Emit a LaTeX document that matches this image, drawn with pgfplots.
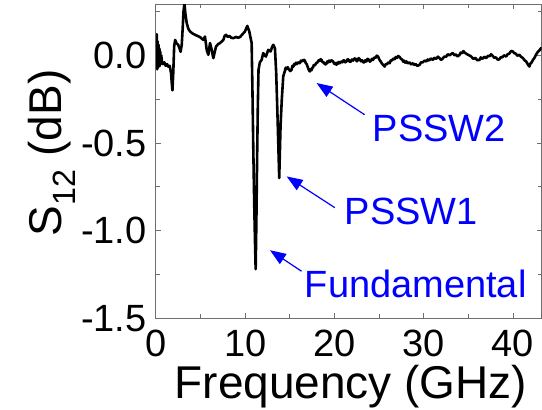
\documentclass[border=0pt]{standalone}
\usepackage{fontspec}
\setmainfont{Liberation Sans}
\usepackage{pgfplots}
\pgfplotsset{compat=1.18}
\usetikzlibrary{arrows.meta}
\definecolor{axgray}{RGB}{110,110,110}
\definecolor{annblue}{RGB}{0,0,255}
\begin{document}
\begin{tikzpicture}
\begin{axis}[
  scale only axis, width=386pt, height=314pt,
  xmin=0, xmax=43.2, ymin=-1.5, ymax=0.29,
  xtick={0,10,20,30,40}, minor xtick={5,15,25,35},
  ytick={-1.5,-1,-0.5,0}, minor ytick={-1.25,-0.75,-0.25,0.25},
  tick align=inside, major tick length=5pt, minor tick length=4pt,
  axis line style={axgray, line width=1pt},
  every tick/.style={axgray, line width=0.8pt},
  /pgf/number format/assume math mode=true,
  xticklabel style={font=\fontsize{38}{44}\selectfont, anchor=base, inner sep=0pt, yshift=-38pt},
  yticklabel style={font=\fontsize{38}{44}\selectfont, anchor=east, inner sep=0pt, xshift=-9pt},
  yticklabel={\pgfmathprintnumber[fixed,fixed zerofill,precision=1]{\tick}},
  xlabel={Frequency (GHz)},
  ylabel={S\textsubscript{12} (dB)},
  every axis x label/.style={at={(axis description cs:0.506,-0.2548)}, anchor=base, inner sep=0pt, font=\fontsize{46}{52}\selectfont},
  every axis y label/.style={at={(axis description cs:-0.2435,0.527)}, rotate=90, anchor=base, inner sep=0pt, font=\fontsize{46}{52}\selectfont},
]
\addplot[black, line width=2.6pt, line join=round] table {
0.00 0.10
0.05 -0.06
0.10 0.12
0.15 -0.08
0.20 0.08
0.25 -0.07
0.30 0.06
0.35 -0.05
0.40 0.04
0.45 -0.06
0.50 0.02
0.55 -0.05
0.60 0.00
0.70 -0.04
0.80 -0.05
0.95 -0.04
1.10 -0.06
1.25 -0.05
1.40 -0.065
1.55 -0.06
1.70 -0.10
1.80 -0.17
1.86 -0.20
1.95 -0.10
2.05 0.05
2.16 0.088
2.30 0.07
2.50 0.06
2.65 0.04
2.77 0.02
2.90 0.06
3.00 0.15
3.10 0.25
3.20 0.30
3.30 0.24
3.46 0.183
3.65 0.15
3.83 0.136
4.10 0.125
4.39 0.117
4.70 0.11
4.95 0.104
5.15 0.095
5.32 0.088
5.50 0.107
5.60 0.07
5.70 0.031
5.88 0.003
6.07 0.07
6.26 0.03
6.44 -0.016
6.60 0.02
6.74 0.05
7.00 0.065
7.19 0.07
7.40 0.08
7.56 0.088
7.70 0.11
7.86 0.117
8.05 0.105
8.23 0.111
8.45 0.10
8.68 0.098
9.00 0.105
9.20 0.10
9.42 0.104
9.70 0.12
9.98 0.136
10.24 0.168
10.47 0.136
10.65 0.09
10.73 0.07
10.82 -0.20
10.92 -0.55
11.02 -0.85
11.10 -1.05
11.18 -1.22
11.26 -0.95
11.34 -0.60
11.42 -0.30
11.50 -0.083
11.65 -0.04
11.85 -0.026
12.03 0.013
12.18 0.000
12.33 -0.007
12.59 0.031
12.85 0.022
13.00 0.045
13.15 0.06
13.34 0.041
13.48 -0.10
13.63 -0.35
13.82 -0.70
13.97 -0.40
14.11 -0.25
14.27 -0.12
14.45 -0.09
14.55 -0.070
14.64 -0.078
14.77 -0.068
14.90 -0.080
15.05 -0.090
15.20 -0.083
15.30 -0.060
15.40 -0.065
15.50 -0.050
15.57 -0.054
15.70 -0.042
15.80 -0.050
15.95 -0.040
16.13 -0.045
16.25 -0.030
16.40 -0.035
16.55 -0.025
16.69 -0.030
16.80 -0.045
16.90 -0.050
17.00 -0.065
17.06 -0.073
17.15 -0.085
17.25 -0.092
17.35 -0.080
17.44 -0.085
17.52 -0.070
17.60 -0.070
17.70 -0.055
17.81 -0.058
17.95 -0.045
18.10 -0.040
18.25 -0.028
18.37 -0.032
18.45 -0.022
18.56 -0.026
18.68 -0.040
18.80 -0.040
18.95 -0.052
19.11 -0.048
19.20 -0.035
19.30 -0.040
19.40 -0.030
19.50 -0.038
19.65 -0.028
19.86 -0.035
19.95 -0.045
20.05 -0.050
20.15 -0.044
20.23 -0.054
20.32 -0.042
20.40 -0.048
20.50 -0.038
20.60 -0.045
20.75 -0.035
20.90 -0.040
21.00 -0.028
21.10 -0.030
21.22 -0.040
21.35 -0.035
21.48 -0.022
21.60 -0.025
21.72 -0.038
21.85 -0.035
21.97 -0.024
22.10 -0.030
22.25 -0.018
22.40 -0.020
22.50 -0.034
22.60 -0.030
22.72 -0.016
22.84 -0.022
22.97 -0.034
23.10 -0.028
23.22 -0.040
23.35 -0.040
23.47 -0.028
23.59 -0.035
23.72 -0.020
23.85 -0.025
23.97 -0.036
24.10 -0.030
24.22 -0.020
24.33 -0.026
24.47 -0.012
24.60 -0.015
24.75 -0.002
24.89 -0.007
25.00 -0.020
25.10 -0.030
25.20 -0.036
25.30 -0.045
25.45 -0.055
25.63 -0.064
25.75 -0.050
25.90 -0.050
26.05 -0.040
26.19 -0.045
26.32 -0.028
26.45 -0.030
26.60 -0.018
26.75 -0.022
26.87 -0.010
27.00 -0.015
27.15 -0.004
27.31 -0.010
27.45 -0.020
27.60 -0.025
27.70 -0.036
27.80 -0.030
27.93 -0.042
28.06 -0.035
28.22 -0.046
28.40 -0.040
28.60 -0.052
28.80 -0.045
28.95 -0.055
29.10 -0.050
29.30 -0.060
29.55 -0.054
29.70 -0.040
29.90 -0.040
30.10 -0.030
30.30 -0.035
30.45 -0.024
30.60 -0.030
30.80 -0.018
31.03 -0.026
31.20 -0.014
31.40 -0.020
31.60 -0.008
31.78 -0.016
31.95 -0.026
32.10 -0.020
32.30 -0.008
32.53 -0.007
32.70 0.006
32.90 0.000
33.10 0.008
33.27 0.013
33.45 0.000
33.60 0.005
33.80 -0.006
34.02 0.003
34.15 0.016
34.30 0.012
34.45 0.024
34.58 0.016
34.75 0.010
34.90 0.005
35.10 0.000
35.33 -0.007
35.55 -0.020
35.80 -0.015
36.00 -0.028
36.26 -0.026
36.40 -0.012
36.60 -0.020
36.80 -0.008
37.00 -0.016
37.20 -0.003
37.40 -0.005
37.55 0.006
37.74 -0.003
37.90 -0.014
38.10 -0.012
38.30 -0.025
38.49 -0.022
38.65 -0.010
38.80 -0.012
39.00 0.000
39.24 -0.007
39.40 0.006
39.60 0.010
39.80 0.025
39.98 0.022
40.15 0.012
40.30 0.010
40.50 -0.002
40.73 0.003
40.90 -0.008
41.10 -0.015
41.30 -0.028
41.48 -0.035
41.65 -0.050
41.84 -0.064
41.95 -0.048
42.10 -0.040
42.25 -0.025
42.40 -0.016
42.60 0.005
42.80 0.020
43.00 0.030
43.15 0.041
43.20 0.038
};
\draw[annblue, line width=1.2pt, -{Triangle[length=16pt,width=12pt]}] (axis cs:23.39,-0.339) -- (axis cs:18.0,-0.158);
\node[annblue, anchor=base west, inner sep=0pt, font=\fontsize{38}{44}\selectfont] at (axis cs:24.29,-0.491) {PSSW2};
\draw[annblue, line width=1.2pt, -{Triangle[length=16pt,width=12pt]}] (axis cs:20.04,-0.869) -- (axis cs:14.65,-0.691);
\node[annblue, anchor=base west, inner sep=0pt, font=\fontsize{38}{44}\selectfont] at (axis cs:21.16,-0.966) {PSSW1};
\draw[annblue, line width=1.2pt, -{Triangle[length=16pt,width=12pt]}] (axis cs:16.32,-1.232) -- (axis cs:12.78,-1.112);
\node[annblue, anchor=base west, inner sep=0pt, font=\fontsize{38}{44}\selectfont] at (axis cs:16.68,-1.383) {Fundamental};
\coordinate (O) at (rel axis cs:0,0);
\coordinate (T) at (rel axis cs:1,1);
\end{axis}
\pgfresetboundingbox
\path[use as bounding box] ([xshift=-156pt,yshift=-91.5pt]O) rectangle ([xshift=0.5pt,yshift=4.5pt]T);
\end{tikzpicture}
\end{document}
